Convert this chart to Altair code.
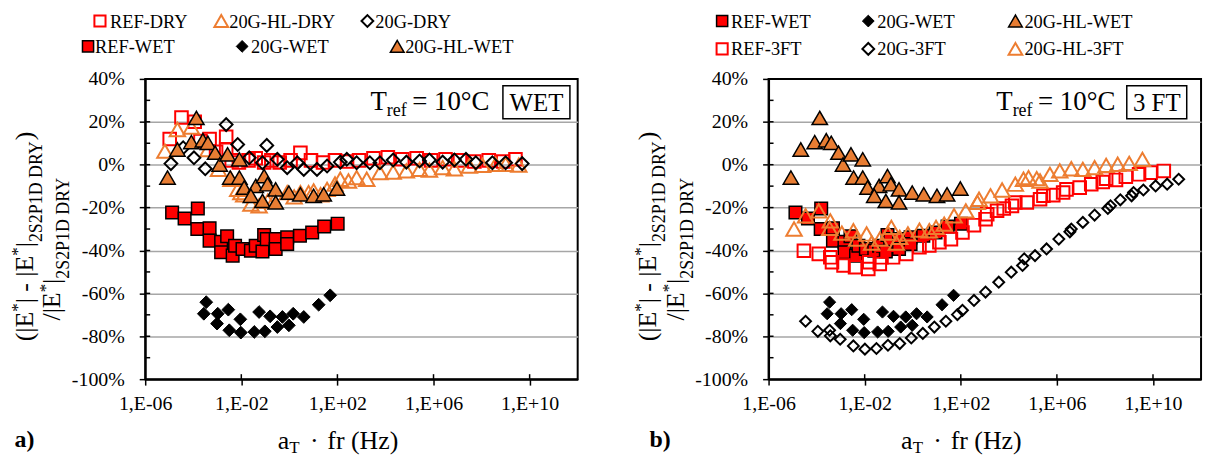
import altair as alt
import pandas as pd

FONT = "'Liberation Serif', 'Times New Roman', Tinos, 'DejaVu Serif', serif"
RED = "#FF0000"
ORANGE = "#ED7D31"
ORANGE_FILL = "#E87D33"
GRID = "#A6A6A6"

# ---------------- data: x = log10(aT*fr [Hz]), y = relative difference [%] ----------------
REF_WET_X = [-4.88, -4.36, -3.81, -3.83, -3.32, -3.32, -2.84, -2.59, -2.84, -2.36, -2.26, -1.95, -1.60,
             -1.40, -1.12, -1.05, -0.94, -0.57, -0.57, -0.09, -0.09, 0.44, 0.95, 1.45, 2.01]
REF_WET_Y = [-22.3, -25.1, -20.4, -30.0, -29.6, -35.4, -35.9, -33.4, -40.8, -42.4, -37.8, -39.3, -40.1,
             -37.8, -40.5, -32.8, -34.7, -34.7, -39.3, -33.9, -37.0, -33.1, -31.6, -28.8, -27.5]

G20_WET_X = [-3.46, -3.56, -2.98, -2.54, -3.01, -2.50, -2.04, -2.02, -1.46, -1.26, -1.02, -0.80, -0.50,
             -0.29, -0.02, 0.16, 0.60, 1.22, 1.70]
G20_WET_Y = [-64.1, -69.5, -69.5, -67.6, -74.1, -77.2, -72.1, -78.3, -78.0, -68.7, -77.7, -70.7, -75.7,
             -71.0, -74.9, -69.5, -71.0, -65.3, -60.9]

HL_WET_X = [-5.07, -4.66, -4.08, -3.87, -3.60, -3.39, -3.09, -2.90, -2.57, -2.46, -2.08, -2.08, -1.88,
            -1.40, -1.60, -1.12, -1.05, -0.91, -0.57, -0.57, -0.02, 0.46, 1.01, 1.43, 1.98]
HL_WET_Y = [-6.0, 7.1, 10.5, 21.8, 11.4, 10.2, 5.6, 0.1, 4.8, -6.0, 2.5, -6.0, -10.7,
            -9.9, -14.5, -16.9, -5.3, -9.1, -11.5, -17.6, -13.0, -13.8, -14.5, -13.8, -11.1]

REF_DRY_X = [-4.98, -4.49, -3.94, -3.70, -3.32, -3.05, -2.63, -2.63, -2.40, -2.10, -1.70, -1.40, -1.05,
             -0.75, -0.40, 0.05, 0.46, 0.90, 1.40, 1.90, 2.40, 2.90, 3.50, 4.10, 4.70, 5.30, 5.90,
             6.50, 7.10, 7.70, 8.30, 8.90, 9.41]
REF_DRY_Y = [12, 22, 20, 11, 12, 6, 13, 7, 2, 1, 2, 3, 1,
             2, 1, 2, 5.5, 2, 1, 2, 1.5, 2, 3, 3.5, 2.5, 3, 2,
             2.5, 2, 1.5, 2, 1.5, 2.5]

G20_DRY_X = [-4.93, -4.42, -3.97, -3.50, -2.63, -2.15, -1.67, -0.94, -1.12, -0.50, -0.09, 0.33, 0.60,
             1.15, 1.57, 2.12, 2.39, 2.80, 3.35, 3.77, 4.32, 4.87, 5.42, 5.83, 6.38, 6.87, 7.35,
             7.76, 8.45, 9.00, 9.69]
G20_DRY_Y = [0.5, 7.9, 3.2, -1.9, 18.7, 9.4, 3.2, 9.0, 0.9, 2.5, -1.4, 0.9, -2.2,
             -2.2, -0.6, 1.2, 2.5, 0.9, 0.9, 0.9, 2.2, 1.2, 1.7, 2.2, 1.2, 2.2, 2.5,
             0.9, 0.9, 0.9, 0.5]

HL_DRY_X = [-5.18, -4.66, -4.08, -3.39, -2.95, -2.43, -2.15, -2.02, -1.90, -1.60, -1.26, -0.90, -0.64,
            -0.09, 0.20, 0.46, 0.80, 1.01, 1.30, 1.57, 1.90, 2.12, 2.46, 2.80, 3.22, 3.77, 4.32,
            4.87, 5.42, 5.83, 6.38, 6.87, 7.49, 8.04, 8.59, 9.00, 9.55]
HL_DRY_Y = [6.3, 16.4, 17.5, 7.0, -2.2, -6.8, -11.5, -13.0, -14.0, -18.4, -19.2, -17.0, -16.9,
            -13.0, -15.0, -13.0, -13.0, -12.2, -14.0, -11.5, -9.0, -6.8, -7.6, -6.0, -6.8, -3.7, -3.4,
            -2.9, -2.2, -2.5, -1.4, -1.9, -0.6, -0.3, 0.2, 0.2, -0.2]

REF_3FT_X = [-4.53, -3.91, -3.43, -3.36, -2.88, -2.40, -1.85, -1.81, -1.37, -1.30, -0.82, -0.27, 0.28,
             0.69, 1.11, 1.59, 2.07, 2.55, 3.03, 3.10, 3.51, 3.79, 4.13, 4.27, 4.75, 5.30, 5.44,
             5.85, 6.26, 6.40, 6.95, 7.43, 7.91, 8.05, 8.46, 8.87, 9.42, 9.90, 10.45]
REF_3FT_Y = [-40.1, -41.6, -43.2, -45.5, -47.0, -47.8, -48.6, -45.5, -46.3, -43.2, -43.2, -41.6, -38.5,
             -37.7, -36.2, -34.7, -31.6, -28.2, -25.4, -23.1, -21.5, -20.4, -19.2, -17.6, -17.6, -16.1, -14.5,
             -14.2, -13.0, -11.5, -10.7, -9.1, -8.1, -6.5, -7.1, -5.6, -4.5, -3.7, -2.9]

G20_3FT_X = [-4.46, -3.95, -3.46, -3.43, -3.02, -2.47, -1.99, -1.51, -1.03, -0.54, -0.06, 0.42, 0.90,
             1.38, 1.86, 2.07, 2.55, 3.03, 3.58, 4.10, 4.57, 4.64, 5.09, 5.57, 6.08, 6.54, 6.60,
             7.08, 7.57, 8.12, 8.23, 8.64, 9.11, 9.19, 9.60, 10.11, 10.59, 11.07]
G20_3FT_Y = [-73.0, -77.7, -77.2, -79.8, -81.4, -84.5, -86.0, -85.7, -84.2, -83.4, -80.8, -78.7, -75.7,
             -73.0, -69.9, -67.9, -63.3, -59.4, -54.8, -50.1, -47.0, -43.9, -42.4, -39.3, -34.7, -31.3, -30.0,
             -26.9, -23.5, -20.4, -19.2, -16.4, -14.5, -13.0, -11.8, -9.9, -9.1, -6.8]

HL_3FT_X = [-4.94, -4.46, -3.91, -3.43, -3.46, -2.95, -2.47, -2.33, -1.92, -1.71, -1.37, -1.03, -0.89,
            -0.68, -0.54, -0.20, 0.28, 0.69, 0.97, 1.31, 1.72, 2.21, 2.69, 2.76, 3.24, 3.72, 4.27,
            4.61, 4.82, 5.16, 5.30, 5.71, 6.12, 6.60, 7.08, 7.57, 8.05, 8.53, 9.01, 9.56]
HL_3FT_Y = [-30.0, -23.8, -21.5, -26.2, -29.7, -31.9, -30.8, -34.7, -32.3, -36.5, -34.7, -31.9, -29.2,
            -36.5, -33.9, -32.3, -30.5, -30.8, -29.2, -27.7, -23.8, -21.5, -17.6, -16.1, -14.5, -11.8, -9.1,
            -6.8, -6.0, -6.5, -7.6, -4.5, -2.9, -1.9, -2.2, -1.4, -0.3, 0.2, 0.6, 2.5]

X_TICKS = [-6, -2, 2, 6, 10]
Y_TICKS = list(range(-100, 41, 10))

# ---------------- styles ----------------
STYLE = {
    "REF-DRY":    dict(shape="square", filled=False, stroke=RED, sw=2),
    "REF-3FT":    dict(shape="square", filled=False, stroke=RED, sw=2),
    "20G-HL-DRY": dict(shape="triangle-up", filled=False, stroke=ORANGE, sw=2),
    "20G-HL-3FT": dict(shape="triangle-up", filled=False, stroke=ORANGE, sw=2),
    "20G-DRY":    dict(shape="diamond", filled=False, stroke="black", sw=2),
    "20G-3FT":    dict(shape="diamond", filled=False, stroke="black", sw=2),
    "REF-WET":    dict(shape="square", filled=True, fill=RED, stroke="black", sw=1.5),
    "20G-WET":    dict(shape="diamond", filled=True, fill="black", stroke="black", sw=1),
    "20G-HL-WET": dict(shape="triangle-up", filled=True, fill=ORANGE_FILL, stroke="black", sw=1.5),
}
PLOT_SIZE = {"square": 160, "triangle-up": 240, "diamond": 165}
LEG_SIZE = {"square": 125, "triangle-up": 190, "diamond": 140}

W, H = 435, 302
one = pd.DataFrame({"k": [0]})

x_enc = alt.X(
    "lf:Q",
    scale=alt.Scale(domain=[-6, 12], nice=False, zero=False),
    axis=alt.Axis(values=X_TICKS, title=None, grid=False, tickSize=6, labelPadding=9,
                  labelFlush=False, labelOverlap=False,
                  labelExpr="'1,E' + (datum.value < 0 ? '-' : '+') + (abs(datum.value) < 10 ? '0' : '') + abs(datum.value)"),
)
y_enc = alt.Y(
    "val:Q",
    scale=alt.Scale(domain=[-100, 40], nice=False, zero=False),
    axis=alt.Axis(values=Y_TICKS, title=None, grid=True, tickSize=6, labelPadding=15,
                  labelOverlap=False,
                  labelExpr="datum.value % 20 === 0 ? datum.value + '%' : ''",
                  gridOpacity={"condition": {"test": "datum.value % 20 === 0 && datum.value > -100 && datum.value < 40",
                                             "value": 1}, "value": 0}),
)


def point_kw(name, size):
    st = STYLE[name]
    kw = dict(shape=st["shape"], size=size, opacity=1, strokeWidth=st["sw"], stroke=st["stroke"])
    if st["filled"]:
        kw.update(filled=True, fill=st["fill"])
    else:
        kw.update(filled=False)
    return kw


def series(name, xs, ys, size=None):
    st = STYLE[name]
    df = pd.DataFrame({"lf": xs, "val": ys})
    sz = size if size is not None else PLOT_SIZE[st["shape"]]
    return alt.Chart(df).mark_point(**point_kw(name, sz)).encode(x=x_enc, y=y_enc)


def inner_ticks():
    # inner halves of the axis ticks (the reference ticks cross the axis line)
    yt = alt.Chart(pd.DataFrame({"val": Y_TICKS[1:-1]})).mark_rule(color="black", strokeWidth=1.5).encode(
        y=alt.Y("val:Q", scale=alt.Scale(domain=[-100, 40], nice=False, zero=False)),
        x=alt.value(0), x2=alt.value(5))
    xt = alt.Chart(pd.DataFrame({"lf": X_TICKS[1:]})).mark_rule(color="black", strokeWidth=1.5).encode(
        x=alt.X("lf:Q", scale=alt.Scale(domain=[-6, 12], nice=False, zero=False)),
        y=alt.value(H - 5), y2=alt.value(H))
    return [yt, xt]


def txt(s, x, y, size, angle=None, align="left", weight=None, baseline="alphabetic"):
    kw = dict(text=s, font=FONT, fontSize=size, align=align, baseline=baseline, color="black")
    if angle is not None:
        kw["angle"] = angle
    if weight:
        kw["fontWeight"] = weight
    return alt.Chart(one).mark_text(**kw).encode(x=alt.value(x), y=alt.value(y))


def leg_symbol(name, x, y):
    st = STYLE[name]
    return alt.Chart(one).mark_point(**point_kw(name, LEG_SIZE[st["shape"]])).encode(
        x=alt.value(x), y=alt.value(y))


# Times New Roman advance widths (per 1000 em) for the rotated title pieces
WID = {" ": 250, "(": 333, ")": 333, "|": 200, "E": 611, "*": 500, "-": 333, "/": 278,
       "2": 500, "S": 556, "P": 556, "1": 500, "D": 722, "R": 667, "Y": 722}


def tw(s, size):
    return sum(WID[c] for c in s) * size / 1000.0


def rotated_line(pieces, x_base, y_start):
    out = []
    y = y_start
    for t, sz, sh in pieces:
        out.append(txt(t, x_base + sh, y, sz, angle=270))
        y -= tw(t, sz)
    return out


def y_title():
    l1 = [("(|E", 26, 0), ("*", 17, -10), ("| - |E", 26, 0), ("*", 17, -10), ("|", 26, 0),
          ("2S2P1D DRY", 18, 9), (")", 26, 0)]
    l2 = [("/|E", 26, 0), ("*", 17, -10), ("|", 26, 0), ("2S2P1D DRY", 18, 9)]
    return rotated_line(l1, -113, 264) + rotated_line(l2, -85.2, 243)


def x_title():
    return [txt("a", 133.2, 372, 26), txt("T", 145, 376, 17),
            txt("\u00b7", 170, 372, 26, align="center"), txt("fr (Hz)", 183.2, 372, 26)]


def annotation(tx, box_x0, box_x1, label):
    box = alt.Chart(one).mark_rect(fill="white", stroke="black", strokeWidth=1.5).encode(
        x=alt.value(box_x0), x2=alt.value(box_x1), y=alt.value(7), y2=alt.value(40))
    return [txt("T", tx, 31, 27), txt("ref", tx + 16.5, 37.3, 18), txt("= 10\u00b0C", tx + 42, 31, 27),
            box, txt(label, (box_x0 + box_x1) / 2, 32.3, 25, align="center")]


def spacer(x0, x1):
    return alt.Chart(one).mark_rect(opacity=0).encode(
        x=alt.value(x0), x2=alt.value(x1), y=alt.value(-67.7), y2=alt.value(380.3))


def legend(entries, row_y):
    out = []
    for name, sx, tx, row in entries:
        sy, ty = row_y[row]
        out.append(leg_symbol(name, sx, sy))
        out.append(txt(name, tx, ty, 18.5))
    return out


# ---------------- panel a) ----------------
left_layers = [spacer(-136, 476.5)] + inner_ticks()
left_layers += [
    series("REF-DRY", REF_DRY_X, REF_DRY_Y),
    series("20G-HL-DRY", HL_DRY_X, HL_DRY_Y),
    series("20G-DRY", G20_DRY_X, G20_DRY_Y),
    series("REF-WET", REF_WET_X, REF_WET_Y),
    series("20G-WET", G20_WET_X, G20_WET_Y),
    series("20G-HL-WET", HL_WET_X, HL_WET_Y),
]
left_layers += legend(
    [("REF-DRY", -45.5, -35.5, 0), ("20G-HL-DRY", 76.5, 84.5, 0), ("20G-DRY", 223.5, 231.5, 0),
     ("REF-WET", -57.5, -50.5, 1), ("20G-WET", 97.5, 106.5, 1), ("20G-HL-WET", 253.5, 261.5, 1)],
    {0: (-58.2, -51.7), 1: (-32.7, -26.4)})
left_layers += annotation(226.5, 359.8, 427.2, "WET")
left_layers += y_title() + x_title()
left_layers.append(txt("a)", -131.5, 370.3, 24, weight="bold"))
left = alt.layer(*left_layers).properties(width=W, height=H)

# ---------------- panel b) ----------------
right_layers = [spacer(-147.7, 441.3)] + inner_ticks()
right_layers += [
    series("REF-WET", REF_WET_X, REF_WET_Y),
    series("20G-WET", G20_WET_X, G20_WET_Y, size=150),
    series("20G-HL-WET", HL_WET_X, HL_WET_Y),
    series("REF-3FT", REF_3FT_X, REF_3FT_Y),
    series("20G-3FT", G20_3FT_X, G20_3FT_Y, size=120),
    series("20G-HL-3FT", HL_3FT_X, HL_3FT_Y),
]
right_layers += legend(
    [("REF-WET", -46.7, -37.7, 0), ("20G-WET", 100.3, 109.3, 0), ("20G-HL-WET", 248.3, 257.3, 0),
     ("REF-3FT", -46.7, -37.7, 1), ("20G-3FT", 100.3, 109.3, 1), ("20G-HL-3FT", 248.3, 257.3, 1)],
    {0: (-58.2, -51.7), 1: (-30.2, -23.9)})
right_layers += annotation(229, 360.3, 420.6, "3 FT")
right_layers += y_title() + x_title()
right_layers.append(txt("b)", -119.7, 370.3, 24, weight="bold"))
right = alt.layer(*right_layers).properties(width=W, height=H)

chart = (
    alt.hconcat(left, right, spacing=0)
    .properties(padding=0)
    .configure_view(stroke="black", strokeWidth=2)
    .configure_axis(domainColor="black", domainWidth=2, tickColor="black", tickWidth=1.5,
                    labelFont=FONT, labelFontSize=20, labelColor="black",
                    gridColor=GRID, gridWidth=1.5)
)

chart.save("out.html", embed_options={"renderer": "svg", "actions": False})
